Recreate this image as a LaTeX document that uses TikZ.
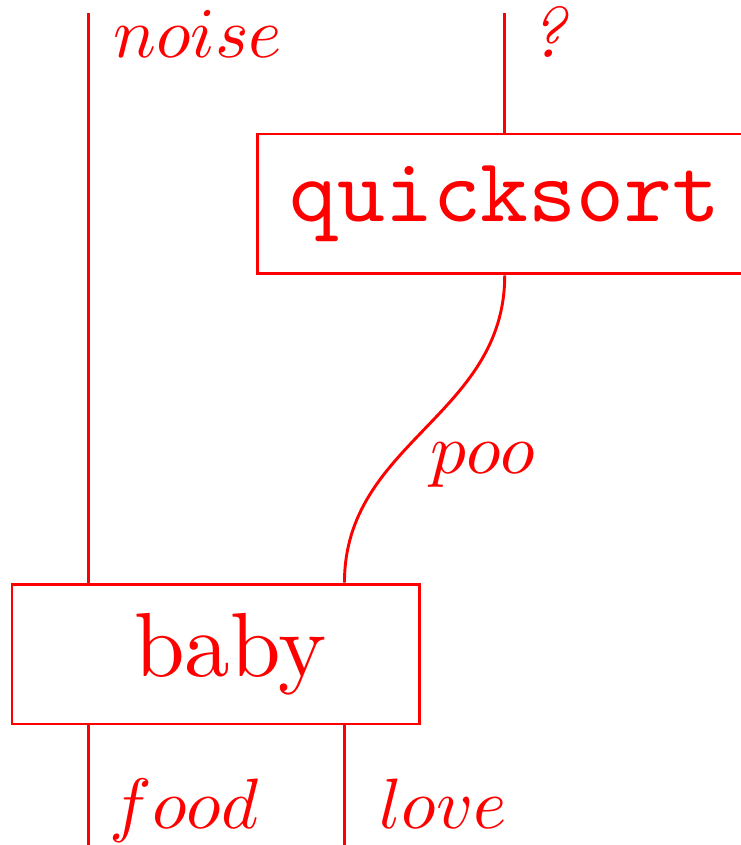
\documentclass[tikz,border=0pt]{standalone}
\usepackage{graphicx}

\tikzset{
  morph/.style={draw, rectangle, inner sep=0pt},
  wirelabel/.style={anchor=base west, inner sep=0pt},
}
\newcommand{\boxtext}[1]{\scalebox{2.49}{#1}}
\newcommand{\wiretext}[1]{\scalebox{1.95}{#1}}

\begin{document}
\begin{tikzpicture}[red, line width=0.8pt]
\useasboundingbox (0,0) rectangle (7.12,-8.12);

% boxes
\node[morph, minimum width=4.75cm, minimum height=1.345cm] (qsort) at (4.85,-1.96) {\boxtext{\texttt{quicksort}}};
\node[morph, minimum width=3.92cm, minimum height=1.345cm] (baby) at (2.075,-6.285) {\boxtext{\hspace*{0.11cm}baby}};

% loose wire ends
\coordinate (noisetop) at (0.846,-0.125);
\coordinate (qtop) at (4.85,-0.125);
\coordinate (foodend) at (0.846,-8.12);
\coordinate (loveend) at (3.31,-8.12);

\draw (noisetop) -- (noisetop |- baby.north);
\draw (qtop) -- (qsort.north);
\draw (qsort.south) .. controls +(0,-1.35) and +(0,1.35) .. (loveend |- baby.north);
\draw (foodend |- baby.south) -- (foodend);
\draw (loveend |- baby.south) -- (loveend);

% wire labels
\node[wirelabel] (noise) at (1.076,-0.548) {\wiretext{$noise$}};
\node[wirelabel] (query) at (5.07,-0.548) {\wiretext{\textit{?}}};
\node[wirelabel] (poo) at (4.12,-4.55) {\wiretext{$poo$}};
\node[wirelabel] (food) at (1.04,-7.96) {\wiretext{$food$}};
\node[wirelabel] (love) at (3.63,-7.96) {\wiretext{$love$}};

\end{tikzpicture}
\end{document}
